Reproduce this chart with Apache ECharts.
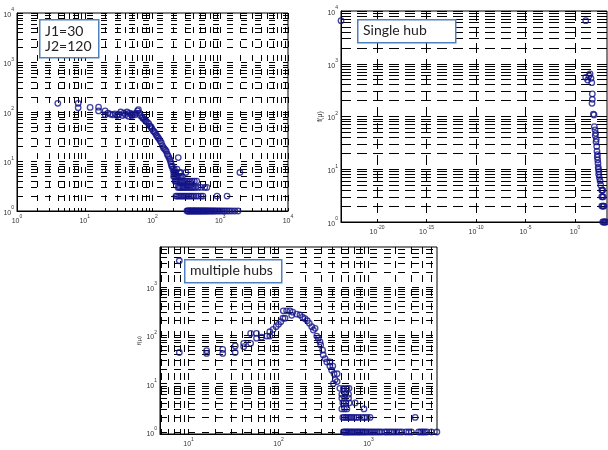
<!DOCTYPE html>
<html>
<head>
<meta charset="utf-8">
<script src="https://cdn.jsdelivr.net/npm/echarts@6/dist/echarts.min.js"></script>
<style>
  html, body { margin: 0; padding: 0; background: #fff; }
  #chart { width: 608px; height: 450px; }
</style>
</head>
<body>
<div id="chart"></div>
<script>
// ---- top-left panel (J1=30, J2=120) ----
var tlMu = [4, 8, 8, 12, 16, 16, 20, 20, 22, 24, 26, 28, 30, 32, 34, 36, 38, 40, 42, 44, 46, 48, 50, 52, 55, 58, 60, 62, 64, 66,
            70, 72, 75, 78, 80, 84, 88, 92, 95, 98, 102, 106, 110, 114, 118, 122, 126, 130, 135, 140, 145, 150, 155, 160, 165,
            170, 175, 180, 185, 188, 192, 196, 200, 205, 210, 215, 220, 230, 240, 250, 260, 311, 1950];
var tlF  = [150, 150, 122, 124, 125, 105, 105, 88, 95, 90, 88, 92, 85, 90, 100, 85, 95, 88, 100, 82, 95, 90, 85, 92, 88, 95, 105, 112, 95, 85,
            80, 75, 72, 68, 65, 62, 58, 52, 50, 46, 42, 40, 37, 34, 32, 30, 28, 26, 24, 21, 19, 18, 17, 16, 14,
            13, 12, 11, 10, 9, 8, 8, 7, 6, 7, 6, 6, 7, 12, 6, 6, 6, 6];
var tlF5Mu = [205, 212, 220, 228, 238, 250, 262, 275];
var tlF4Mu = [215, 222, 230, 240, 250, 262, 275, 290, 305, 322, 340, 360, 385, 415, 450];
var tlF3Mu = [238, 248, 258, 270, 282, 296, 310, 326, 344, 362, 382, 405, 430, 470, 520, 590, 635];
var tlF2Mu = [222, 232, 244, 256, 268, 282, 296, 312, 328, 345, 365, 385, 410, 440, 475, 520, 555, 895, 1260];
var tlF1Mu = [322, 332, 342, 352, 363, 374, 386, 398, 410, 423, 436, 450, 465, 480, 496, 512, 530, 548, 567, 587, 608,
              630, 655, 680, 710, 740, 775, 810, 850, 900, 950, 1010, 1080, 1160, 1250, 1350, 1480, 1640, 1830];

// ---- top-right panel (single hub) ----
var trMu = [2.3e-24, 12, 12, 19, 26, 33, 41, 49, 56, 56, 52, 71, 83, 89, 105, 112, 120, 132, 140, 155, 165, 178, 185, 195, 209,
            220, 229, 246, 260, 282, 339, 398];
var trF  = [6550, 6550, 553, 491, 588, 643, 530, 437, 268, 212, 178, 111, 107, 64, 56, 43, 48, 33, 37, 27, 22, 17, 19, 15, 13,
            11, 10, 8, 9, 7, 6, 5];
var trF4Mu = [500, 560, 630];
var trF3Mu = [500, 600, 724];
var trF2Mu = [500, 620, 760, 850];
var trF1Mu = [630, 780, 950, 1150, 1450];

// ---- bottom panel (multiple hubs) ----
var bMu = [7.9, 7.9, 15.9, 15.9, 24, 24, 33, 33, 41, 41, 49, 49, 57, 57, 65, 74, 80, 80, 87, 94, 100, 106, 112, 118,
           113, 123, 134, 144, 140, 159, 173, 185, 197, 209, 220, 234, 244, 255, 266, 277, 289, 294, 309, 314, 329,
           344, 372, 372, 401, 390, 414, 448, 427, 407, 448, 480, 525, 575, 607];
var bF  = [3460, 44, 48, 42, 51, 42, 60, 44, 68, 58, 109, 68, 109, 87, 91, 96, 118, 96, 132, 150, 168, 190, 224, 224,
           320, 320, 320, 300, 258, 274, 262, 235, 220, 199, 176, 150, 128, 139, 96, 87, 73, 63, 49, 39, 33,
           28, 28, 23, 23, 19, 16, 16, 12, 10, 11, 8, 8, 8, 8];
var bF6Mu = [505, 550, 600];
var bF5Mu = [505, 540, 600];
var bF4Mu = [518, 560, 610, 710];
var bF3Mu = [505, 540, 575, 890];
var bF2Mu = [518, 540, 565, 590, 620, 650, 690, 730, 780, 840, 900, 970, 1040, 3300];
var bF1Mu = [525, 545, 565, 585, 605, 630, 655, 680, 710, 740, 770, 800, 835, 870, 910, 955, 1010, 1060, 1120, 1180,
             1250, 1320, 1400, 1520, 1600, 1700, 1800, 1920, 2050, 2200, 2350, 2600, 2800, 3000, 3600, 3800, 4000,
             4200, 4450, 5000, 5750];

var navy = '#14148a';

// points -> [log10 mu, log10 f]
function pairs(mu, f) {
  return mu.map(function (m, i) { return [Math.log10(m), Math.log10(f[i])]; });
}
function row(mu, f) {
  return mu.map(function (m) { return [Math.log10(m), Math.log10(f)]; });
}

// grid / tick positions on a log axis (1..9 x 10^n)
function logTicks(lo, hi) {
  var out = [];
  for (var n = Math.floor(lo); n <= Math.ceil(hi); n++) {
    for (var k = 1; k <= 9; k++) {
      var v = n + Math.log10(k);
      if (v >= lo - 1e-9 && v <= hi + 1e-9) out.push(v);
    }
  }
  return out;
}
function decades(lo, hi, step) {
  var out = [];
  for (var n = Math.ceil(lo / step) * step; n <= hi + 1e-9; n += step) out.push(n);
  return out;
}

var rich = {
  b: { fontSize: 7, fontFamily: 'Liberation Sans', color: '#333', lineHeight: 11, verticalAlign: 'bottom' },
  s: { fontSize: 5, fontFamily: 'Liberation Sans', color: '#333', lineHeight: 11, verticalAlign: 'top' }
};
function fmt(v) { return '{b|10}{s|' + Math.round(v) + '}'; }

function logAxis(grid, lo, hi, ticks, labels, dash, extra) {
  var ax = {
    type: 'value', gridIndex: grid, min: lo, max: hi,
    axisLine: { show: true, onZero: false, lineStyle: { color: '#000', width: 1 } },
    axisTick: { show: true, inside: true, length: 3, customValues: ticks, lineStyle: { color: '#000' } },
    splitLine: { show: true, lineStyle: { color: '#000', width: 1, type: dash } },
    axisLabel: { customValues: labels, formatter: fmt, rich: rich, margin: 3 }
  };
  if (extra) for (var k in extra) ax[k] = extra[k];
  return ax;
}

function scatter(data, xi) {
  return {
    type: 'scatter', xAxisIndex: xi, yAxisIndex: xi, data: data,
    symbol: 'circle', symbolSize: 5.5,
    itemStyle: { color: 'rgba(0,0,0,0)', borderColor: navy, borderWidth: 1.3 },
    z: 5
  };
}

var chart = echarts.init(document.getElementById('chart'));

var option = {
  animation: false,
  backgroundColor: '#fff',
  grid: [
    { left: 17, top: 13, width: 271, height: 198, show: true, borderColor: '#000', borderWidth: 1, outerBoundsMode: 'none' },
    { left: 341, top: 11, width: 266, height: 211, show: true, borderColor: '#000', borderWidth: 1, outerBoundsMode: 'none' },
    { left: 160, top: 247, width: 277, height: 187, show: true, borderColor: '#000', borderWidth: 1, outerBoundsMode: 'none' }
  ],
  xAxis: [
    logAxis(0, 0, 4, logTicks(0, 4), decades(0, 4, 1), [6, 8]),
    logAxis(1, -23.64, 3.23, decades(-23.64, 3.23, 5), decades(-23.64, 3.23, 5), [10, 6]),
    logAxis(2, 0.683, 3.761, logTicks(0.683, 3.761), decades(0.683, 3.761, 1), [7, 7])
  ],
  yAxis: [
    logAxis(0, 0, 4, logTicks(0, 4), decades(0, 4, 1), [6, 8]),
    logAxis(1, 0, 4, logTicks(0, 4), decades(0, 4, 1), [10, 6],
      { name: 'f(\u03bc)', nameLocation: 'middle', nameRotate: 90, nameGap: 15,
        nameTextStyle: { fontSize: 7, fontFamily: 'Liberation Sans', color: '#333' } }),
    logAxis(2, -0.041, 3.823, logTicks(-0.041, 3.823), decades(-0.041, 3.823, 1), [7, 7],
      { name: 'f(\u03bc)', nameLocation: 'middle', nameRotate: 90, nameGap: 10,
        nameTextStyle: { fontSize: 6, fontFamily: 'Liberation Sans', color: '#333' } })
  ],
  series: [
    scatter(pairs(tlMu, tlF).concat(row(tlF5Mu, 5), row(tlF4Mu, 4), row(tlF3Mu, 3), row(tlF2Mu, 2), row(tlF1Mu, 1)), 0),
    scatter(pairs(trMu, trF).concat(row(trF4Mu, 4), row(trF3Mu, 3), row(trF2Mu, 2), row(trF1Mu, 1)), 1),
    scatter(pairs(bMu, bF).concat(row(bF6Mu, 6), row(bF5Mu, 5), row(bF4Mu, 4), row(bF3Mu, 3), row(bF2Mu, 2), row(bF1Mu, 1)), 2)
  ],
  graphic: [
    { type: 'rect', left: 39, top: 19, shape: { width: 59, height: 38 }, z: 100,
      style: { fill: '#fff', stroke: '#4f81bd', lineWidth: 1.5 } },
    { type: 'text', left: 45, top: 24, z: 101,
      style: { text: 'J1=30\nJ2=120', font: '14px Lato', fill: '#222', lineHeight: 15 } },
    { type: 'rect', left: 357, top: 19, shape: { width: 98, height: 23 }, z: 100,
      style: { fill: '#fff', stroke: '#4f81bd', lineWidth: 1.5 } },
    { type: 'text', left: 363, top: 23, z: 101,
      style: { text: 'Single hub', font: '14px Lato', fill: '#222' } },
    { type: 'rect', left: 184, top: 259, shape: { width: 97, height: 23 }, z: 100,
      style: { fill: '#fff', stroke: '#4f81bd', lineWidth: 1.5 } },
    { type: 'text', left: 190, top: 263, z: 101,
      style: { text: 'multiple hubs', font: '14px Lato', fill: '#222' } }
  ]
};

chart.setOption(option);
</script>
</body>
</html>
